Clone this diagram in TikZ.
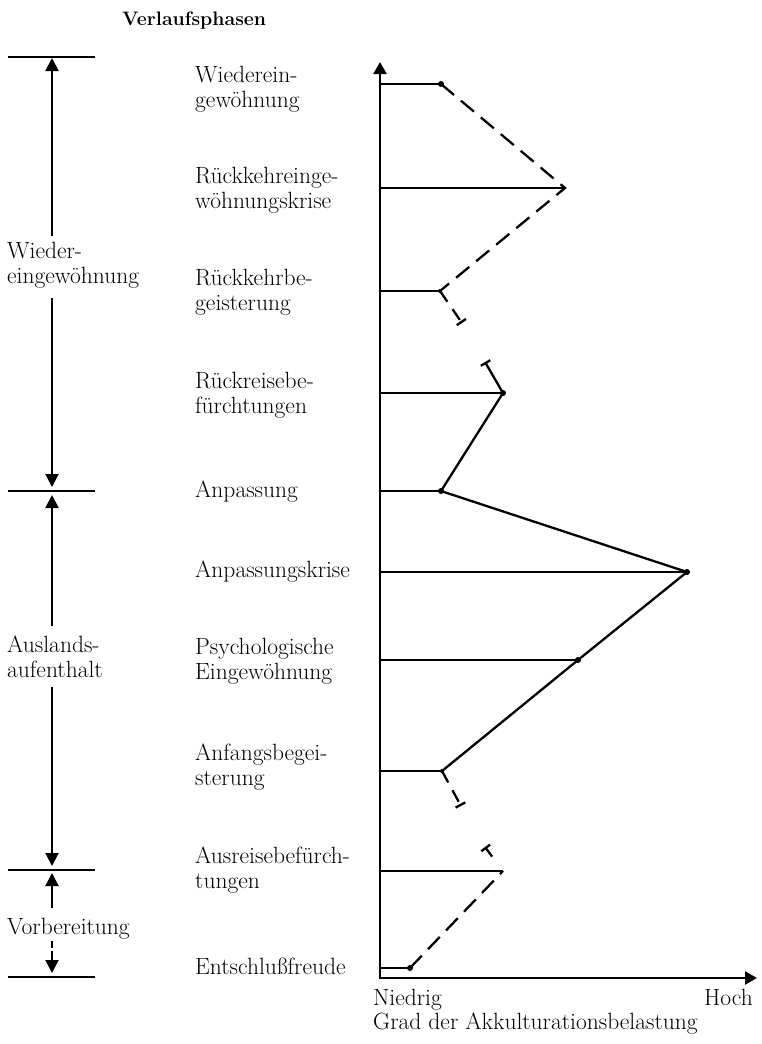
\documentclass[tikz,border=0pt]{standalone}
\usepackage{fontspec}
\usetikzlibrary{arrows.meta,calc}
\begin{document}
\begin{tikzpicture}[x=1pt,y=-1pt,
  lab/.style={anchor=base west,inner sep=0pt,align=left,font=\fontsize{23.5}{25}\selectfont},
  labr/.style={lab,anchor=base east},
  ttl/.style={anchor=base west,inner sep=0pt,font=\fontsize{19.5}{22}\selectfont\bfseries},
  lev/.style={line width=2pt},
  curve/.style={line width=2.3pt,line join=miter},
  dsh/.style={curve,dash pattern=on 17pt off 9pt},
  shortdsh/.style={curve,dash pattern=on 13pt off 9pt},
  tbar/.style={-{Bar[width=11pt]}},
  dot/.style={circle,fill,inner sep=0pt,minimum size=6pt},
  smalldot/.style={circle,fill,inner sep=0pt,minimum size=4pt},
  axis/.style={line width=2.4pt,-{Triangle[length=12pt,width=13pt]}},
  dim/.style={line width=2pt,-{Triangle[length=13pt,width=13pt]}},
]
\useasboundingbox (0,0) rectangle (762,1044);

% title
\node[ttl] (title) at (122,25) {Verlaufsphasen};

% ---------- left phase dimension lines ----------
\coordinate (h1) at (52,57);
\coordinate (h2) at (52,491);
\coordinate (h3) at (52,870);
\coordinate (h4) at (52,977);
\foreach \n in {h1,h2,h3,h4}{
  \draw[lev] ($(\n)+(-44,0)$) -- ($(\n)+(43,0)$);
}
% multi-line nodes: base = baseline of last line
\node[lab] (wl) at (7,283) {Wieder-\\eingewöhnung};
\node[lab] (al) at (7,677) {Auslands-\\aufenthalt};
\node[lab] (vl) at (7,934) {Vorbereitung};

\draw[dim,shorten <=5pt,shorten >=1pt] (wl.north -| h1) -- (h1);
\draw[dim,shorten <=10pt,shorten >=4pt] (wl.south -| h2) -- (h2);
\draw[dim,shorten <=9pt,shorten >=4pt] (al.north -| h2) -- (h2);
\draw[dim,shorten <=10pt,shorten >=4pt] (al.south -| h3) -- (h3);
\draw[dim,shorten <=10pt,shorten >=3pt] (vl.north -| h3) -- (h3);
\draw[dim,dash pattern=on 7pt off 3pt on 40pt off 1pt,shorten <=2pt,shorten >=4pt] (vl.south -| h4) -- (h4);

% ---------- phase labels ----------
\node[lab] (l1) at (195,107) {Wiederein-\\gewöhnung};
\node[lab] (l2) at (195,208) {Rückkehreinge-\\wöhnungskrise};
\node[lab] (l3) at (195,310) {Rückkehrbe-\\geisterung};
\node[lab] (l4) at (195,413) {Rückreisebe-\\fürchtungen};
\node[lab] (l5) at (195,497) {Anpassung};
\node[lab] (l6) at (195,577) {Anpassungskrise};
\node[lab] (l7) at (195,679) {Psychologische\\Eingewöhnung};
\node[lab] (l8) at (195,785) {Anfangsbegei-\\sterung};
\node[lab] (l9) at (195,888) {Ausreisebefürch-\\tungen};
\node[lab] (l10) at (195,974) {Entschlußfreude};

% ---------- axes ----------
\coordinate (o) at (380,978);
\coordinate (ytop) at (380,62);
\coordinate (xend) at (757,978);
\draw[axis] (o) -- (ytop);
\draw[axis] ($(o)+(-1.2,0)$) -- (xend);

\node[lab] (low) at (373,1005) {Niedrig};
\node[labr] (high) at (753,1005) {Hoch};
\node[lab] (xlab) at (373,1029) {Grad der Akkulturationsbelastung};

% ---------- level points ----------
\node[dot] (p1) at (441,84) {};
\coordinate (q2) at (565,188);
\node[smalldot] (p3) at (440,291) {};
\node[dot] (p4) at (503,393) {};
\node[dot] (p5) at (441,491) {};
\node[dot] (p6) at (687,572) {};
\node[dot] (p7) at (578,660) {};
\node[smalldot] (p8) at (442,771) {};
\coordinate (q9) at (503,871);
\node[dot] (p10) at (410,968) {};

\coordinate (t3) at (462,323);
\coordinate (t4) at (485,362);
\coordinate (t8) at (461,806);
\coordinate (t9) at (485,847);

% level lines from axis
\foreach \p in {p1,q2,p3,p4,p5,p6,p7,p8,q9,p10}{
  \draw[lev] (\p -| o) -- (\p.center);
}

% profile
\draw[dsh] (p1.center) -- (q2) -- (p3.center);
\draw[shortdsh,tbar] (p3.center) -- (t3);
\draw[curve,tbar] (p4.center) -- (t4);
\draw[curve] (p4.center) -- (p5.center) -- (p6.center) -- (p7.center) -- (p8.center);
\draw[shortdsh,tbar] (p8.center) -- (t8);
\draw[dsh] (p10.center) -- (q9);
\draw[curve,tbar] ($(q9)!0.6!(t9)$) -- (t9);
\end{tikzpicture}
\end{document}
